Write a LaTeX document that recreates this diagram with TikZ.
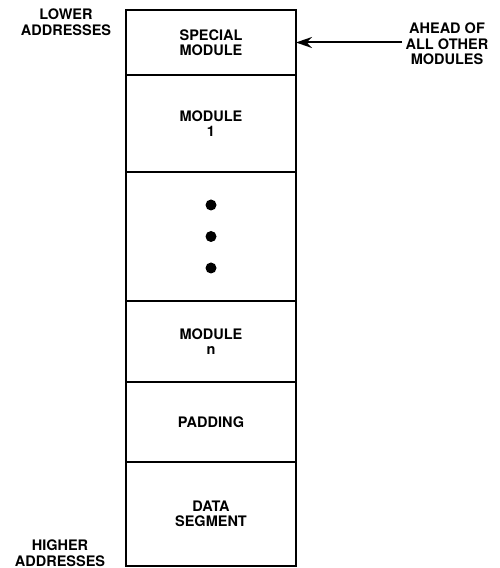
\documentclass[tikz,border=0pt]{standalone}
\usepackage{fontspec}
\setmainfont{TeX Gyre Heros}
\usetikzlibrary{positioning,arrows.meta}

\begin{document}
\begin{tikzpicture}[
  x=1pt, y=1pt,
  cell/.style={rectangle, draw, line width=1.6pt, minimum width=170pt, outer sep=0pt, align=center},
  label/.style={align=center},
  every node/.style={font=\fontsize{14.5}{15.5}\selectfont\bfseries}
]
\useasboundingbox (0,0) rectangle (499,568);

% memory cells, top to bottom
\node[cell, minimum height=65pt, anchor=north] (special) at (211,558) {SPECIAL\\MODULE};
\node[cell, minimum height=97pt, below=0pt of special] (mod1) {MODULE\\1};
\node[cell, minimum height=129pt, below=0pt of mod1] (dots) {};
\node[cell, minimum height=81pt, below=0pt of dots] (modn) {MODULE\\n};
\node[cell, minimum height=80pt, below=0pt of modn] (padding) {PADDING};
\node[cell, minimum height=104pt, below=0pt of padding] (data) {DATA\\SEGMENT};
\draw[line width=2.6pt] (special.north west) rectangle (data.south east);

\foreach \d in {-1,0,1}
  \fill ([yshift=\d*31.5pt]dots.center) circle (5.5);

% side labels
\node[label] (lower) at (66,546) {LOWER\\ADDRESSES};
\node[label] (higher) at (60,15) {HIGHER\\ADDRESSES};
\node[label] (ahead) at (447,524) {AHEAD OF\\ALL OTHER\\MODULES};

\draw[line width=2pt, -{Stealth[length=16pt,width=11pt]}] (ahead.west |- special.east) -- (special.east);

\end{tikzpicture}
\end{document}
